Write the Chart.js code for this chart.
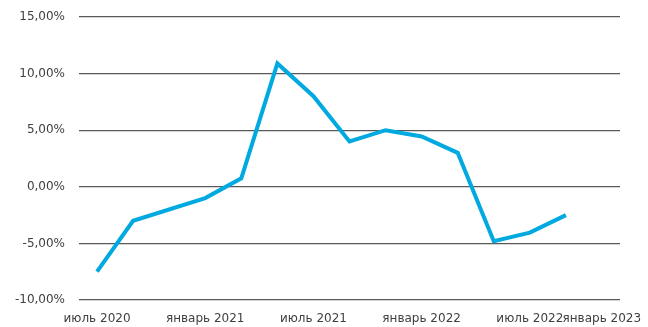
<!DOCTYPE html>
<html>
<head>
<meta charset="utf-8">
<script src="https://cdn.jsdelivr.net/npm/chart.js@4/dist/chart.umd.min.js"></script>
<style>
  html, body { margin: 0; padding: 0; background: #fff; }
  #wrap { width: 648px; height: 327px; }
</style>
</head>
<body>
<div id="wrap"><canvas id="c"></canvas></div>
<script>
// data: months counted from july 2020, values in %
const months = [0, 2, 6, 8, 10, 12, 14, 16, 18, 20, 22, 24, 26];
const values = [-7.5, -3.0, -1.0, 0.75, 10.9, 8.0, 4.0, 5.0, 4.45, 3.0, -4.8, -4.05, -2.5];

const tickMonths = [0, 6, 12, 18, 24, 30];
const tickLabels = ['июль 2020', 'январь 2021', 'июль 2021', 'январь 2022', 'июль 2022', 'январь 2023'];

const points = months.map((m, i) => ({ x: m, y: values[i] }));

const textColor = '#404040';
const font = { family: 'DejaVu Sans', size: 12 };

const config = {
  type: 'line',
  data: {
    datasets: [{
      data: points,
      borderColor: '#00A9E0',
      borderWidth: 4,
      pointRadius: 0,
      tension: 0,
      fill: false
    }]
  },
  options: {
    responsive: true,
    maintainAspectRatio: false,
    animation: false,
    layout: { padding: { top: 17, right: 28, left: 0, bottom: 0 } },
    plugins: {
      legend: { display: false },
      tooltip: { enabled: false }
    },
    scales: {
      x: {
        type: 'linear',
        min: -1,
        max: 29,
        grid: { display: false, drawTicks: false },
        border: { display: false },
        afterBuildTicks: (s) => {
          s.ticks = tickMonths.map(v => ({ value: v }));
        },
        afterFit: (s) => {
          s.height = 27;
          s.paddingLeft = 0;
          s.paddingRight = 0;
        },
        ticks: {
          autoSkip: false,
          maxRotation: 0,
          minRotation: 0,
          padding: 12,
          color: textColor,
          font: font,
          callback: (v) => {
            const i = tickMonths.indexOf(v);
            if (i < 0) return '';
            // last label is pushed back inside the canvas like in excel
            if (i === tickMonths.length - 1) return tickLabels[i] + '\u00a0'.repeat(19);
            return tickLabels[i];
          }
        }
      },
      y: {
        min: -10,
        max: 15,
        grid: { color: '#595959', lineWidth: 1.3, drawTicks: false },
        border: { display: false },
        afterFit: (s) => {
          s.width = 79;
          s.paddingTop = 0;
          s.paddingBottom = 0;
        },
        ticks: {
          stepSize: 5,
          padding: 14,
          color: textColor,
          font: font,
          callback: (v) => v.toFixed(2).replace('.', ',') + '%'
        }
      }
    }
  }
};

const myChart = new Chart(document.getElementById('c'), config);
</script>
</body>
</html>
